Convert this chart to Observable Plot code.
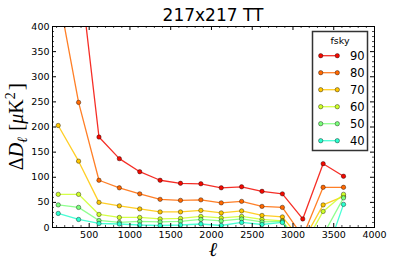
<!DOCTYPE html>
<html><head><meta charset="utf-8">
<script src="https://cdn.jsdelivr.net/npm/d3@7"></script>
<script src="https://cdn.jsdelivr.net/npm/@observablehq/plot@0.6"></script>
<style>body{margin:0;background:#fff}</style>
</head><body><div id="chart"></div>
<script>
// ---- data ----
const ell = [120, 370, 620, 870, 1120, 1370, 1620, 1870, 2120, 2370, 2620, 2870, 3120, 3370, 3620];
const fsky = [90, 80, 70, 60, 50, 40];
const f90 = [1100, 530, 180, 137, 111, 94, 88, 87, 79, 81, 72, 67, 17, 127, 102];
const f80 = [467, 249, 94, 79, 67, 56, 54, 55, 49, 52, 42, 40, -18, 80, 80];
const f70 = [203, 132, 50, 43, 37, 31, 31, 34, 29, 33, 24, 21, -28, 45, 62];
const f60 = [66, 66, 26, 20, 20, 17, 18, 22, 19, 22, 16, 13, -40, 32, 66];
const f50 = [45, 40, 14, 10, 12, 11, 12, 16, 13, 17, 11, 12, -45, -15, 59];
const f40 = [28, 16, 8, 7, 5, 4, 5, 7, 4, 10, 6, 10, -50, -70, 46];
const seriesValues = [f90, f80, f70, f60, f50, f40];
const jetColors = ["rgb(243,9,0)", "rgb(255,104,0)", "rgb(255,198,0)", "rgb(206,255,41)", "rgb(123,255,123)", "rgb(41,255,206)"];
const xTicks = [500, 1000, 1500, 2000, 2500, 3000, 3500, 4000];
const yTicks = [0, 50, 100, 150, 200, 250, 300, 350, 400];
const titleText = "217x217 TT";
const legendTitle = "fsky";

// ---- layout ----
const W = 415, H = 260, mL = 52, mR = 41, mT = 26, mB = 33;
const innerW = W - mL - mR, innerH = H - mT - mB;

const rows = [];
fsky.forEach((f, i) => ell.forEach((x, j) => rows.push({f, ell: x, v: seriesValues[i][j]})));

const xMinor = d3.range(100, 4000, 100).filter(d => d % 500 !== 0);
const yMinor = d3.range(10, 400, 10).filter(d => d % 50 !== 0);
const maj = 4, mnr = 2;

const seriesMarks = fsky.flatMap(f => [
  Plot.line(rows.filter(r => r.f === f), {x: "ell", y: "v", stroke: "f", strokeWidth: 1.3, strokeOpacity: 0.85, clip: true}),
  Plot.dot(rows.filter(r => r.f === f), {x: "ell", y: "v", fill: "f", stroke: "#000", strokeOpacity: 0.65, strokeWidth: 0.6, r: 2.2, clip: true})
]);

const chart = Plot.plot({
  width: W, height: H,
  marginLeft: mL, marginRight: mR, marginTop: mT, marginBottom: mB,
  style: {fontFamily: "DejaVu Sans", fontSize: "9.5px", color: "black", background: "white"},
  x: {domain: [50, 4000]},
  y: {domain: [0, 400]},
  color: {type: "ordinal", domain: fsky, range: jetColors},
  marks: [
    ...seriesMarks,
    Plot.frame({stroke: "black", strokeWidth: 1}),
    // inward ticks, all four sides
    Plot.tickX(xTicks, {x: d => d, insetTop: innerH - maj, stroke: "black"}),
    Plot.tickX(xTicks, {x: d => d, insetBottom: innerH - maj, stroke: "black"}),
    Plot.tickX(xMinor, {x: d => d, insetTop: innerH - mnr, stroke: "black", strokeWidth: 0.7}),
    Plot.tickX(xMinor, {x: d => d, insetBottom: innerH - mnr, stroke: "black", strokeWidth: 0.7}),
    Plot.tickY(yTicks, {y: d => d, insetRight: innerW - maj, stroke: "black"}),
    Plot.tickY(yTicks, {y: d => d, insetLeft: innerW - maj, stroke: "black"}),
    Plot.tickY(yMinor, {y: d => d, insetRight: innerW - mnr, stroke: "black", strokeWidth: 0.7}),
    Plot.tickY(yMinor, {y: d => d, insetLeft: innerW - mnr, stroke: "black", strokeWidth: 0.7}),
    Plot.axisX({ticks: xTicks, tickSize: 0, tickPadding: 4, label: null, tickFormat: d => String(d)}),
    Plot.axisY({ticks: yTicks, tickSize: 0, tickPadding: 3, label: null, tickFormat: d => String(d)})
  ]
});
document.getElementById("chart").appendChild(chart);

const svg = d3.select(chart);
const color = chart.scale("color");

// title
svg.append("text").attr("x", mL + innerW / 2).attr("y", 20.7).attr("text-anchor", "middle")
  .style("font", "17px 'DejaVu Sans'").attr("fill", "black").text(titleText);

// y label (mathtext-like)
const yl = svg.append("text").attr("transform", `translate(23,${mT + innerH / 2}) rotate(-90)`)
  .attr("text-anchor", "middle").style("font-family", "'Liberation Serif'").style("font-size", "20px").attr("fill", "black");
yl.append("tspan").text("Δ");
yl.append("tspan").style("font-style", "italic").text("D");
yl.append("tspan").style("font-style", "italic").style("font-size", "14px").attr("dy", 4).text("ℓ");
yl.append("tspan").attr("dy", -4).attr("dx", 6).style("font-size", "22px").text("[");
yl.append("tspan").style("font-style", "italic").text("μ");
yl.append("tspan").text("K");
yl.append("tspan").style("font-size", "14px").attr("dy", -8).text("2");
yl.append("tspan").attr("dy", 8).attr("dx", 2).style("font-size", "22px").text("]");

// x label
svg.append("text").attr("x", mL + innerW / 2).attr("y", 256).attr("text-anchor", "middle")
  .style("font-family", "'Liberation Serif'").style("font-size", "20px").style("font-style", "italic")
  .attr("fill", "black").text("ℓ");

// legend
const lg = svg.append("g");
lg.append("rect").attr("x", 312.5).attr("y", 31.5).attr("width", 55).attr("height", 119)
  .attr("fill", "white").attr("stroke", "#333").attr("stroke-width", 1.5);
lg.append("text").attr("x", 340).attr("y", 44.2).attr("text-anchor", "middle")
  .style("font", "9.5px 'DejaVu Sans'").attr("fill", "black").text(legendTitle);
fsky.forEach((f, i) => {
  const y = 55.7 + 17 * i;
  const c = color.apply(f);
  lg.append("line").attr("x1", 320.7).attr("x2", 337.3).attr("y1", y).attr("y2", y)
    .attr("stroke", c).attr("stroke-width", 1.3).attr("stroke-opacity", 0.85);
  [320.7, 337.3].forEach(cx => lg.append("circle").attr("cx", cx).attr("cy", y).attr("r", 2.2)
    .attr("fill", c).attr("stroke", "#000").attr("stroke-opacity", 0.65).attr("stroke-width", 0.6));
  lg.append("text").attr("x", 350).attr("y", y + 4.2).attr("text-anchor", "start")
    .style("font", "11.5px 'DejaVu Sans'").attr("fill", "black").text(String(f));
});
</script></body></html>
